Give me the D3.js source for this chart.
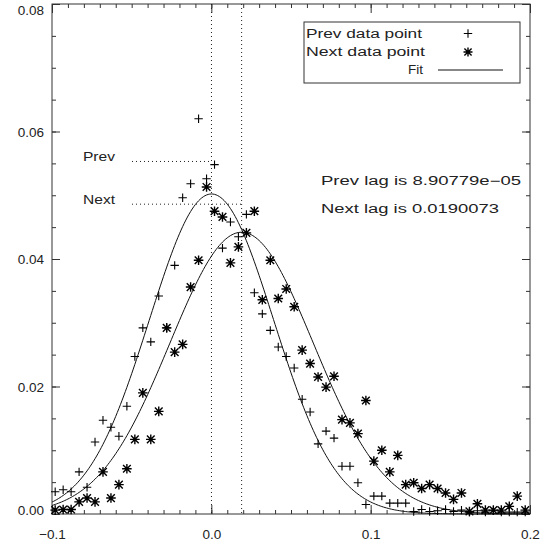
<!DOCTYPE html>
<html>
<head>
<meta charset="utf-8">
<script src="https://cdn.jsdelivr.net/npm/d3@7"></script>
<style>
  body { margin: 0; background: #fff; }
  svg { display: block; }
  text { font-family: "Liberation Sans", Arial, sans-serif; fill: #222; }
</style>
</head>
<body>
<div id="chart"></div>
<script>
// lag values (x) shared by both series
const lags = [-0.098, -0.093, -0.088, -0.083, -0.078, -0.073, -0.068, -0.063, -0.058, -0.053,
              -0.048, -0.043, -0.038, -0.033, -0.028, -0.023, -0.018, -0.013, -0.008, -0.003,
               0.002,  0.007,  0.012,  0.017,  0.022,  0.027,  0.032,  0.037,  0.042,  0.047,
               0.052,  0.057,  0.062,  0.067,  0.072,  0.077,  0.082,  0.087,  0.092,  0.097,
               0.102,  0.107,  0.112,  0.117,  0.122,  0.127,  0.132,  0.137,  0.142,  0.147,
               0.152,  0.157,  0.162,  0.167,  0.172,  0.177,  0.182,  0.187,  0.192,  0.197];

const prevValues = [0.0035, 0.0038, 0.0035, 0.0066, 0.0042, 0.0113, 0.0147, 0.0136, 0.0122, 0.0169,
                    0.0247, 0.0292, 0.0270, 0.0342, 0.0292, 0.0390, 0.0496, 0.0518, 0.0620, 0.0526,
                    0.0548, 0.0417, 0.0458, 0.0435, 0.0470, 0.0347, 0.0314, 0.0288, 0.0262, 0.0247,
                    0.0229, 0.0180, 0.0160, 0.0110, 0.0130, 0.0119, 0.0075, 0.0075, 0.0049, 0.0015,
                    0.0028, 0.0028, 0.0017, 0.0017, 0.0017, 0.0004, 0.0007, 0.0004, 0.0005, 0.0007,
                    0.0004, 0.0006, 0.0003, 0.0005, 0.0003, 0.0005, 0.0003, 0.0003, 0.0003, 0.0003];

const nextValues = [0.0006, 0.0007, 0.0007, 0.0019, 0.0025, 0.0019, 0.0066, 0.0025, 0.0046, 0.0071,
                    0.0117, 0.0190, 0.0117, 0.0161, 0.0292, 0.0254, 0.0266, 0.0356, 0.0398, 0.0513,
                    0.0475, 0.0466, 0.0394, 0.0419, 0.0441, 0.0475, 0.0336, 0.0398, 0.0338, 0.0353,
                    0.0325, 0.0257, 0.0236, 0.0215, 0.0199, 0.0216, 0.0148, 0.0143, 0.0126, 0.0178,
                    0.0083, 0.0100, 0.0066, 0.0092, 0.0046, 0.0049, 0.0040, 0.0046, 0.0040, 0.0033,
                    0.0023, 0.0033, 0.0004, 0.0016, 0.0006, 0.0006, 0.0006, 0.0012, 0.0028, 0.0006];

// gaussian fit parameters: [prev, next]
const fitAmp    = [0.0502, 0.0442];
const fitCenter = [8.90779e-05, 0.0190073];
const fitSigma  = [0.039, 0.045];
const markLevel = [0.0553, 0.0486];   // dotted "Prev"/"Next" markers
const markNames = ["Prev", "Next"];

const xMajor = [-0.1, 0.0, 0.1, 0.2];
const yMajor = [0.00, 0.02, 0.04, 0.06, 0.08];

const width = 541, height = 548;
const x = d3.scaleLinear().domain([-0.1, 0.2]).range([52, 530]);
const y = d3.scaleLinear().domain([0, 0.08]).range([514, 4]);

const svg = d3.select("#chart").append("svg")
    .attr("width", width).attr("height", height)
    .attr("viewBox", `0 0 ${width} ${height}`);

const axisColor = "#333";
function styleAxis(g) {
    g.select(".domain").remove();
    g.selectAll(".tick line").attr("stroke", axisColor);
    g.selectAll("text").attr("font-size", "13.5px").attr("fill", "#222")
        .attr("font-family", "\"Liberation Sans\", Arial, sans-serif");
}

const xMinor = d3.range(-0.1, 0.2001, 0.01).map(d => +d.toFixed(3));
const yMinor = d3.range(0, 0.0801, 0.005).map(d => +d.toFixed(3));

// bottom
svg.append("g").attr("transform", `translate(0,${y(0)})`)
    .call(d3.axisBottom(x).tickValues(xMinor).tickSize(-4).tickFormat(""))
    .call(styleAxis);
svg.append("g").attr("transform", `translate(0,${y(0)})`)
    .call(d3.axisBottom(x).tickValues(xMajor).tickSize(-9).tickPadding(15).tickFormat(d3.format(".1f")))
    .call(styleAxis);
// top
svg.append("g").attr("transform", `translate(0,${y(0.08)})`)
    .call(d3.axisTop(x).tickValues(xMinor).tickSize(-4).tickFormat(""))
    .call(styleAxis);
svg.append("g").attr("transform", `translate(0,${y(0.08)})`)
    .call(d3.axisTop(x).tickValues(xMajor).tickSize(-9).tickFormat(""))
    .call(styleAxis);
// left
svg.append("g").attr("transform", `translate(${x(-0.1)},0)`)
    .call(d3.axisLeft(y).tickValues(yMinor).tickSize(-4).tickFormat(""))
    .call(styleAxis);
const leftAxis = svg.append("g").attr("transform", `translate(${x(-0.1)},0)`)
    .call(d3.axisLeft(y).tickValues(yMajor).tickSize(-8).tickPadding(8).tickFormat(d3.format(".2f")))
    .call(styleAxis);
leftAxis.selectAll(".tick text").attr("dy", d => d === 0 ? "-0.0em" : d === 0.08 ? "0.75em" : "0.35em");
// right
svg.append("g").attr("transform", `translate(${x(0.2)},0)`)
    .call(d3.axisRight(y).tickValues(yMinor).tickSize(-4).tickFormat(""))
    .call(styleAxis);
svg.append("g").attr("transform", `translate(${x(0.2)},0)`)
    .call(d3.axisRight(y).tickValues(yMajor).tickSize(-8).tickFormat(""))
    .call(styleAxis);

// frame
svg.append("rect")
    .attr("x", x(-0.1)).attr("y", y(0.08))
    .attr("width", x(0.2) - x(-0.1)).attr("height", y(0) - y(0.08))
    .attr("fill", "none").attr("stroke", axisColor).attr("stroke-width", 1);

// vertical dotted lag lines
fitCenter.forEach(c => {
    svg.append("line")
        .attr("x1", x(c)).attr("x2", x(c))
        .attr("y1", y(0.08)).attr("y2", y(0))
        .attr("stroke", "#222").attr("stroke-width", 1)
        .attr("stroke-dasharray", "1,3");
});

// horizontal dotted markers with labels
markLevel.forEach((lv, i) => {
    svg.append("line")
        .attr("x1", 132).attr("x2", x(fitCenter[i]))
        .attr("y1", y(lv)).attr("y2", y(lv))
        .attr("stroke", "#222").attr("stroke-width", 1)
        .attr("stroke-dasharray", "1,3");
    svg.append("text")
        .attr("x", 83).attr("y", y(lv))
        .attr("font-size", "12px")
        .attr("textLength", 32).attr("lengthAdjust", "spacingAndGlyphs")
        .text(markNames[i]);
});

// fit curves
const fitX = d3.range(-0.1, 0.2001, 0.001);
const line = d3.line().x(d => x(d[0])).y(d => y(d[1]));
fitAmp.forEach((a, i) => {
    const pts = fitX.map(v => [v, a * Math.exp(-Math.pow(v - fitCenter[i], 2) / (2 * fitSigma[i] * fitSigma[i]))]);
    svg.append("path")
        .attr("d", line(pts))
        .attr("fill", "none").attr("stroke", "#111").attr("stroke-width", 1);
});

// symbols
const plusPath = r => `M${-r},0H${r}M0,${-r}V${r}`;
const starPath = r => {
    const d = r * 0.8;
    return `M${-r},0H${r}M0,${-r}V${r}M${-d},${-d}L${d},${d}M${-d},${d}L${d},${-d}`;
};

const pts = svg.append("g");
pts.selectAll(".prev")
    .data(lags.map((l, i) => [l, prevValues[i]]))
    .join("path")
    .attr("class", "prev")
    .attr("transform", d => `translate(${x(d[0])},${y(d[1])})`)
    .attr("d", plusPath(4.2))
    .attr("stroke", "#000").attr("stroke-width", 1.1).attr("fill", "none");

pts.selectAll(".next")
    .data(lags.map((l, i) => [l, nextValues[i]]))
    .join("path")
    .attr("class", "next")
    .attr("transform", d => `translate(${x(d[0])},${y(d[1])})`)
    .attr("d", starPath(4.8))
    .attr("stroke", "#000").attr("stroke-width", 1.4).attr("fill", "none");

// legend
const legend = svg.append("g");
legend.append("rect")
    .attr("x", 304).attr("y", 22).attr("width", 216).attr("height", 61)
    .attr("fill", "#fff").attr("stroke", axisColor).attr("stroke-width", 1);
legend.append("text").attr("x", 306).attr("y", 37.5).attr("font-size", "12px")
    .attr("textLength", 116).attr("lengthAdjust", "spacingAndGlyphs").text("Prev data point");
legend.append("text").attr("x", 306).attr("y", 56).attr("font-size", "12px")
    .attr("textLength", 119).attr("lengthAdjust", "spacingAndGlyphs").text("Next data point");
legend.append("text").attr("x", 408).attr("y", 74).attr("font-size", "12px")
    .attr("textLength", 15).attr("lengthAdjust", "spacingAndGlyphs").text("Fit");
legend.append("path").attr("transform", "translate(468,33.5)").attr("d", plusPath(4.2))
    .attr("stroke", "#000").attr("stroke-width", 1.1);
legend.append("path").attr("transform", "translate(468,52)").attr("d", starPath(4.5))
    .attr("stroke", "#000").attr("stroke-width", 1.4);
legend.append("line").attr("x1", 438).attr("x2", 503).attr("y1", 70).attr("y2", 70)
    .attr("stroke", "#111").attr("stroke-width", 1);

// lag annotations
svg.append("text").attr("x", 321).attr("y", 184.5).attr("font-size", "12px")
    .attr("textLength", 200).attr("lengthAdjust", "spacingAndGlyphs")
    .text("Prev lag is " + "8.90779e\u221205");
svg.append("text").attr("x", 321).attr("y", 213).attr("font-size", "12px")
    .attr("textLength", 178).attr("lengthAdjust", "spacingAndGlyphs")
    .text("Next lag is " + fitCenter[1].toFixed(7));
</script>
</body>
</html>
